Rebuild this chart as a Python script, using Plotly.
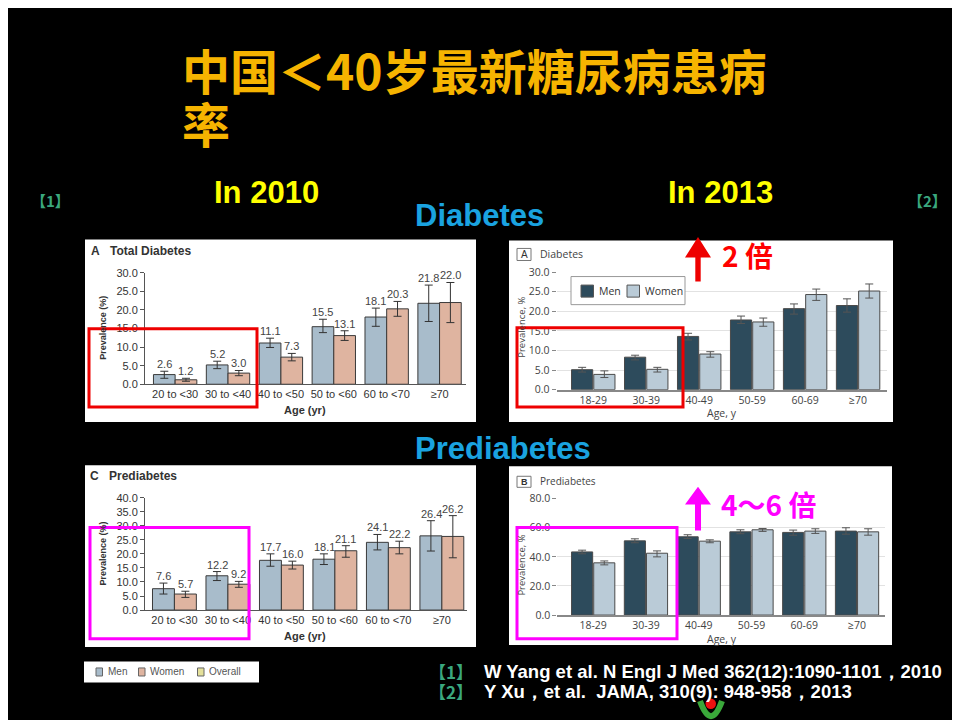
import plotly.graph_objects as go

W, H = 960, 720

# the page puts the figure a little off the window corner; these map the
# slide's pixel positions onto paper coordinates
OX, OY, SY = 8.0, 16.4, 0.977


def fx(x):
    return (x - OX) / W


def fy(y):
    return 1 - ((y - OY) / SY) / H


# ---- data ----
age_2010 = ["20 to <30", "30 to <40", "40 to <50", "50 to <60", "60 to <70", "≥70"]
age_2013 = ["18-29", "30-39", "40-49", "50-59", "60-69", "≥70"]

# 2010, total diabetes (NEJM)
dm10_men = [2.6, 5.2, 11.1, 15.5, 18.1, 21.8]
dm10_men_hi = [3.5, 6.2, 12.4, 17.5, 20.5, 26.7]
dm10_men_lo = [1.6, 4.2, 9.9, 13.9, 15.6, 16.9]
dm10_women = [1.2, 3.0, 7.3, 13.1, 20.3, 22.0]
dm10_women_hi = [1.6, 3.7, 8.3, 14.4, 22.3, 27.4]
dm10_women_lo = [0.8, 2.3, 6.3, 11.8, 18.3, 16.6]

# 2010, prediabetes
pre10_men = [7.6, 12.2, 17.7, 18.1, 24.1, 26.4]
pre10_men_hi = [9.6, 13.7, 20.0, 20.0, 26.9, 31.8]
pre10_men_lo = [5.7, 10.5, 15.6, 16.2, 21.4, 21.0]
pre10_women = [5.7, 9.2, 16.0, 21.1, 22.2, 26.2]
pre10_women_hi = [6.7, 10.2, 17.4, 22.9, 24.5, 33.6]
pre10_women_lo = [4.5, 8.1, 14.6, 18.8, 20.0, 18.6]

# 2013, diabetes (JAMA)
dm13_men = [5.1, 8.3, 13.6, 17.8, 20.7, 21.5]
dm13_men_hi = [5.7, 8.8, 14.4, 18.8, 21.9, 23.2]
dm13_men_lo = [4.5, 7.6, 12.7, 16.9, 19.3, 19.8]
dm13_women = [3.9, 5.2, 9.1, 17.3, 24.3, 25.2]
dm13_women_hi = [4.8, 5.7, 9.7, 18.3, 25.7, 27.0]
dm13_women_lo = [3.1, 4.5, 8.3, 16.2, 22.8, 23.4]

# 2013, prediabetes
pre13_men = [43.4, 51.0, 53.8, 57.2, 56.8, 57.7]
pre13_men_hi = [44.6, 52.4, 55.2, 58.6, 58.4, 60.0]
pre13_men_lo = [42.1, 49.7, 52.6, 55.9, 54.9, 55.6]
pre13_women = [35.9, 42.5, 50.8, 58.6, 57.7, 57.2]
pre13_women_hi = [37.2, 44.1, 51.7, 59.5, 59.3, 59.3]
pre13_women_lo = [34.5, 40.0, 49.7, 57.5, 56.1, 54.9]

legend_2010 = ["Men", "Women", "Overall"]
legend_2013 = ["Men", "Women"]

NEJM_MEN, NEJM_WOMEN, NEJM_ALL = "#a8bccb", "#dfb4a0", "#e4e09a"
JAMA_MEN, JAMA_WOMEN = "#2d4b5c", "#bacbd7"
GOLD, YELLOW, SKY, TEAL = "#f6b400", "#ffff00", "#1aa3e0", "#3aa77e"


def plus(hi, v):
    return [round(h - a, 2) for h, a in zip(hi, v)]


def minus(lo, v):
    return [round(a - l, 2) for l, a in zip(lo, v)]


fig = go.Figure()

panels = [
    ("x", "y", age_2010, dm10_men, dm10_men_hi, dm10_men_lo,
     dm10_women, dm10_women_hi, dm10_women_lo, "nejm"),
    ("x2", "y2", age_2013, dm13_men, dm13_men_hi, dm13_men_lo,
     dm13_women, dm13_women_hi, dm13_women_lo, "jama"),
    ("x3", "y3", age_2010, pre10_men, pre10_men_hi, pre10_men_lo,
     pre10_women, pre10_women_hi, pre10_women_lo, "nejm"),
    ("x4", "y4", age_2013, pre13_men, pre13_men_hi, pre13_men_lo,
     pre13_women, pre13_women_hi, pre13_women_lo, "jama"),
]

annotations = []
for xa, ya, cats, m, mhi, mlo, w, whi, wlo, style in panels:
    if style == "nejm":
        cm, cw, edge, bw, om, ow = NEJM_MEN, NEJM_WOMEN, "#3a3a3a", 0.41, -0.41, 0.0
        err_col = "#333333"
    else:
        cm, cw, edge, bw, om, ow = JAMA_MEN, JAMA_WOMEN, "#4a4a4a", 0.40, -0.41, 0.01
        err_col = "#555555"
    for name, vals, hi, lo, col, off in (("Men", m, mhi, mlo, cm, om),
                                         ("Women", w, whi, wlo, cw, ow)):
        fig.add_trace(go.Bar(
            x=cats, y=vals, xaxis=xa, yaxis=ya, name=name,
            width=bw, offset=off,
            marker=dict(color=col, line=dict(color=edge, width=1)),
            error_y=dict(type="data", array=plus(hi, vals), arrayminus=minus(lo, vals),
                         color=err_col, thickness=1, width=4),
            showlegend=False, hoverinfo="x+y",
        ))
        if style == "nejm":
            shift = -10.8 if name == "Men" else 10.8
            for c, v, h in zip(cats, vals, hi):
                annotations.append(dict(
                    x=c, y=h, xref=xa, yref=ya, text=f"{v:.1f}", showarrow=False,
                    yanchor="bottom", xshift=shift, yshift=-1,
                    font=dict(family="Liberation Sans", size=11, color="#444444")))

nejm_font = dict(family="Liberation Sans", size=11, color="#333333")
jama_font = dict(family="Open Sans", size=10.5, color="#444444")


def nejm_axes(xdom, ydom, xrange, ymax, dtick, anchor_x, anchor_y):
    xa = dict(domain=[fx(xdom[0]), fx(xdom[1])], anchor=anchor_y, type="category",
              range=xrange, showline=True, linecolor="#555555", linewidth=1,
              ticks="", showgrid=False, tickfont=nejm_font, fixedrange=True)
    ya = dict(domain=[fy(ydom[0]), fy(ydom[1])], anchor=anchor_x, range=[0, ymax],
              tickvals=list(range(0, ymax + 1, dtick)), tickformat=".1f",
              showline=True, linecolor="#555555", linewidth=1, ticks="outside",
              ticklen=4, tickcolor="#555555", showgrid=False, zeroline=False,
              tickfont=nejm_font, fixedrange=True)
    return xa, ya


def jama_axes(xdom, ydom, xrange, ymax, dtick, anchor_x, anchor_y):
    xa = dict(domain=[fx(xdom[0]), fx(xdom[1])], anchor=anchor_y, type="category",
              range=xrange, showline=True, linecolor="#888888", linewidth=1.5,
              ticks="", showgrid=False, tickfont=jama_font, fixedrange=True)
    ya = dict(domain=[fy(ydom[0]), fy(ydom[1])], anchor=anchor_x, range=[0, ymax],
              tickvals=list(range(0, ymax + 1, dtick)), tickformat=".1f",
              showline=False, ticks="outside", ticklen=4, tickcolor="#888888",
              showgrid=True, gridcolor="#e2e2e2", zeroline=False,
              tickfont=jama_font, fixedrange=True)
    return xa, ya


x1, y1 = nejm_axes((145, 466), (384.3, 273.3), [-0.57, 5.5], 30, 5, "x", "y")
x2, y2 = jama_axes((556.7, 886.7), (389.7, 272.7), [-0.69, 5.54], 30, 5, "x2", "y2")
x3, y3 = nejm_axes((145, 467), (609.3, 497.3), [-0.55, 5.47], 40, 5, "x3", "y3")
x4, y4 = jama_axes((557.3, 885), (614.3, 498.3), [-0.68, 5.53], 80, 20, "x4", "y4")


def text(x, y, s, size, color, family="Liberation Sans", xanchor="center", angle=0):
    annotations.append(dict(x=fx(x), y=fy(y), xref="paper", yref="paper", text=s,
                            showarrow=False, xanchor=xanchor, yanchor="middle",
                            textangle=angle,
                            font=dict(family=family, size=size, color=color)))


cjk = "Noto Sans CJK SC"
text(180, 70, "<b>中国＜40岁最新糖尿病患病</b>", 48, GOLD, cjk, "left")
text(180, 123, "<b>率</b>", 48, GOLD, cjk, "left")
text(266, 193, "<b>In 2010</b>", 31, YELLOW)
text(720, 193, "<b>In 2013</b>", 31, YELLOW)
text(479, 216, "<b>Diabetes</b>", 31, SKY)
text(503, 448, "<b>Prediabetes</b>", 31, SKY)
text(50, 201, "<b>【1】</b>", 15, TEAL, cjk)
text(927, 201, "<b>【2】</b>", 15, TEAL, cjk)
text(747, 256, "<b>2 倍</b>", 28, "#ff0000", cjk)
text(768, 504, "<b>4～6 倍</b>", 28, "#ff00ff", cjk)

# references
text(451, 671, "<b>【1】</b>", 17, TEAL, cjk)
text(451, 690, "<b>【2】</b>", 17, TEAL, cjk)
text(482, 671, "<b>W Yang et al. N Engl J Med 362(12):1090-1101，2010</b>", 18.5, "white",
     "Liberation Sans", "left")
text(482, 690, "<b>Y Xu，et al.  JAMA, 310(9): 948-958，2013</b>", 18.5, "white",
     "Liberation Sans", "left")

# panel captions and axis titles
text(89, 252, "<b>A</b>", 12, "#333333", "Liberation Sans", "left")
text(108, 252, "<b>Total Diabetes</b>", 12, "#333333", "Liberation Sans", "left")
text(88, 476, "<b>C</b>", 12, "#333333", "Liberation Sans", "left")
text(107, 476, "<b>Prediabetes</b>", 12, "#333333", "Liberation Sans", "left")
text(524, 255, "A", 10, "#333333", "Liberation Sans")
text(538, 255, "Diabetes", 10.5, "#444444", "Open Sans", "left")
text(524, 481.5, "<b>B</b>", 9, "#333333", "Liberation Sans")
text(538, 481, "Prediabetes", 10, "#444444", "Open Sans", "left")
text(103, 328, "<b>Prevalence (%)</b>", 9, "#333333", "Liberation Sans", angle=-90)
text(103, 553, "<b>Prevalence (%)</b>", 9, "#333333", "Liberation Sans", angle=-90)
text(305, 410, "<b>Age (yr)</b>", 11, "#333333")
text(305, 635, "<b>Age (yr)</b>", 11, "#333333")
text(522, 328, "Prevalence, %", 9.5, "#444444", "Open Sans", angle=-90)
text(522, 565, "Prevalence, %", 9.5, "#444444", "Open Sans", angle=-90)
text(722, 413, "Age, y", 10.5, "#444444", "Open Sans")
text(722, 638, "Age, y", 10.5, "#444444", "Open Sans")


def rect(x0, y0, x1_, y1_, **kw):
    return dict(type="rect", xref="paper", yref="paper",
                x0=fx(x0), x1=fx(x1_), y0=fy(y1_), y1=fy(y0), **kw)


def arrow_path(x, tip, base, head, half_head, half_shaft):
    pts = [(x - half_shaft, base), (x - half_shaft, head), (x - half_head, head),
           (x, tip), (x + half_head, head), (x + half_shaft, head), (x + half_shaft, base)]
    return "M " + " L ".join(f"{fx(a):.5f},{fy(b):.5f}" for a, b in pts) + " Z"


white = dict(fillcolor="white", line=dict(width=0), layer="below")
shapes = [
    rect(85, 240, 476, 422, **white),
    rect(509, 241, 893, 422, **white),
    rect(85, 465, 476, 646, **white),
    rect(509, 466, 892, 644, **white),
    rect(84, 660.5, 259, 681.5, **white),
    rect(517, 249, 531, 261, line=dict(color="#777777", width=1)),
    rect(517, 476, 531, 487, line=dict(color="#777777", width=1)),
    # legend frame of the 2013 chart
    rect(571, 277, 685, 305, line=dict(color="#999999", width=1), fillcolor="white"),
]

# hand-drawn legends (swatch + label)
for name, col, x0 in zip(legend_2013, (JAMA_MEN, JAMA_WOMEN), (581, 627)):
    shapes.append(rect(x0, 285.5, x0 + 12.5, 297.5, fillcolor=col,
                       line=dict(color="#555555", width=1)))
    text(x0 + 16, 291.5, name, 10.5, "#333333", "Open Sans", "left")
for name, col, x0 in zip(legend_2010, (NEJM_MEN, NEJM_WOMEN, NEJM_ALL), (96, 138.5, 197.5)):
    shapes.append(rect(x0, 667, x0 + 6.5, 675, fillcolor=col,
                       line=dict(color="#666666", width=1)))
    text(x0 + 9.5, 671, name, 10, "#555555", "Liberation Sans", "left")

shapes += [
    # highlight boxes
    rect(89, 329, 257, 407, line=dict(color="#ee0000", width=3)),
    rect(517, 328, 683, 407, line=dict(color="#ee0000", width=3)),
    rect(90, 527, 249, 638, line=dict(color="#ff00ff", width=3)),
    rect(517, 527, 677, 638, line=dict(color="#ff00ff", width=3)),
    # arrows
    dict(type="path", xref="paper", yref="paper", line=dict(width=0), fillcolor="#ee0000",
         path=arrow_path(698, 237.5, 282, 258, 13, 2.7)),
    dict(type="path", xref="paper", yref="paper", line=dict(width=0), fillcolor="#ff00ff",
         path=arrow_path(698, 486.5, 530, 504, 13, 3)),
    # little logo
    dict(type="path", xref="paper", yref="paper", line=dict(color="#3aa83a", width=6),
         path=f"M {fx(700):.5f},{fy(700):.5f} Q {fx(711):.5f},{fy(730):.5f} "
              f"{fx(722):.5f},{fy(700):.5f}"),
    dict(type="circle", xref="paper", yref="paper", x0=fx(705.5), x1=fx(716), y0=fy(708),
         y1=fy(697.5), fillcolor="#ee1111", line=dict(width=0)),
]

fig.update_layout(
    width=W, height=H, margin=dict(l=0, r=0, t=0, b=0),
    paper_bgcolor="black", plot_bgcolor="rgba(0,0,0,0)",
    xaxis=x1, yaxis=y1, xaxis2=x2, yaxis2=y2, xaxis3=x3, yaxis3=y3, xaxis4=x4, yaxis4=y4,
    annotations=annotations, shapes=shapes, showlegend=False,
)

fig.write_html("out.html")
